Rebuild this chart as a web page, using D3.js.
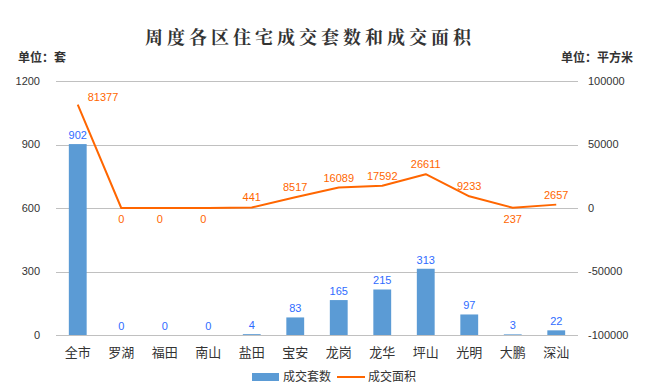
<!DOCTYPE html>
<html>
<head>
<meta charset="utf-8">
<script src="https://cdn.jsdelivr.net/npm/d3@7"></script>
<style>
  body { margin: 0; background: #fff; }
</style>
</head>
<body>
<div id="chart"></div>
<script>
// data
const districts = ["全市", "罗湖", "福田", "南山", "盐田", "宝安", "龙岗", "龙华", "坪山", "光明", "大鹏", "深汕"];
const units = [902, 0, 0, 0, 4, 83, 165, 215, 313, 97, 3, 22];
const areas = [81377, 0, 0, 0, 441, 8517, 16089, 17592, 26611, 9233, 237, 2657];
const leftTicks = [0, 300, 600, 900, 1200];
const rightTicks = [-100000, -50000, 0, 50000, 100000];

// where each line label sits relative to its point
const areaLabelPos = ["right", "below", "below", "below", "above", "above", "above", "above", "above", "above", "below", "above"];

const width = 649, height = 391;
const margin = { top: 81, right: 71, bottom: 56, left: 56 };
const numFont = "'Liberation Sans', Arial, sans-serif";
const cjkFont = "'Noto Sans CJK SC', sans-serif";

const svg = d3.select("#chart").append("svg")
    .attr("width", width)
    .attr("height", height);

const x = d3.scaleBand()
    .domain(districts)
    .range([margin.left, width - margin.right])
    .paddingInner(0.59)
    .paddingOuter(0.295);

const xc = d3.scaleBand().domain(districts).range([margin.left, width - margin.right]);

const yL = d3.scaleLinear().domain([0, 1200]).range([height - margin.bottom, margin.top]);
const yR = d3.scaleLinear().domain([-100000, 100000]).range([height - margin.bottom, margin.top]);

// gridlines
svg.append("g")
    .selectAll("line")
    .data(leftTicks)
    .join("line")
    .attr("x1", margin.left)
    .attr("x2", width - margin.right)
    .attr("y1", d => Math.round(yL(d)) + 0.5)
    .attr("y2", d => Math.round(yL(d)) + 0.5)
    .attr("stroke", "#c0c0c0")
    .attr("stroke-width", 1);

// left axis labels
svg.append("g")
    .selectAll("text")
    .data(leftTicks)
    .join("text")
    .attr("x", 40)
    .attr("y", d => yL(d))
    .attr("dy", "0.35em")
    .attr("text-anchor", "end")
    .attr("font-family", numFont)
    .attr("font-size", 11)
    .attr("fill", "#333")
    .text(d => d);

// right axis labels
svg.append("g")
    .selectAll("text")
    .data(rightTicks)
    .join("text")
    .attr("x", 588)
    .attr("y", d => yR(d))
    .attr("dy", "0.35em")
    .attr("text-anchor", "start")
    .attr("font-family", numFont)
    .attr("font-size", 11)
    .attr("fill", "#333")
    .text(d => d);

// category labels
svg.append("g")
    .selectAll("text")
    .data(districts)
    .join("text")
    .attr("x", d => xc(d) + xc.bandwidth() / 2)
    .attr("y", height - margin.bottom + 22)
    .attr("text-anchor", "middle")
    .attr("font-family", cjkFont)
    .attr("font-size", 13)
    .attr("fill", "#333")
    .text(d => d);

// bars
svg.append("g")
    .selectAll("rect")
    .data(units)
    .join("rect")
    .attr("x", (d, i) => x(districts[i]))
    .attr("y", d => yL(d))
    .attr("width", x.bandwidth())
    .attr("height", d => yL(0) - yL(d))
    .attr("fill", "#5b9bd5");

// bar labels
svg.append("g")
    .selectAll("text")
    .data(units)
    .join("text")
    .attr("x", (d, i) => xc(districts[i]) + xc.bandwidth() / 2)
    .attr("y", d => yL(d) - 5)
    .attr("text-anchor", "middle")
    .attr("font-family", numFont)
    .attr("font-size", 11)
    .attr("fill", "#2f6bff")
    .text(d => d);

// area line
const line = d3.line()
    .x((d, i) => xc(districts[i]) + xc.bandwidth() / 2)
    .y(d => yR(d));

svg.append("path")
    .datum(areas)
    .attr("d", line)
    .attr("fill", "none")
    .attr("stroke", "#ff6600")
    .attr("stroke-width", 2)
    .attr("stroke-linejoin", "round");

// line labels
svg.append("g")
    .selectAll("text")
    .data(areas)
    .join("text")
    .attr("x", (d, i) => {
        const cx = xc(districts[i]) + xc.bandwidth() / 2;
        if (areaLabelPos[i] === "right") return cx + 10;
        if (areaLabelPos[i] === "below" && i > 1 && i < 4) return cx - 5;
        return cx;
    })
    .attr("y", (d, i) => {
        const p = areaLabelPos[i];
        if (p === "below") return yR(d) + 15;
        if (p === "right") return yR(d) - 4;
        return yR(d) - 6;
    })
    .attr("text-anchor", (d, i) => areaLabelPos[i] === "right" ? "start" : "middle")
    .attr("font-family", numFont)
    .attr("font-size", 11)
    .attr("fill", "#ff6600")
    .text(d => d);

// title
svg.append("text")
    .attr("x", 310)
    .attr("y", 44)
    .attr("text-anchor", "middle")
    .attr("font-family", "'Noto Serif CJK SC', 'Noto Sans CJK SC', serif")
    .attr("font-size", 18)
    .attr("font-weight", "bold")
    .attr("letter-spacing", 4)
    .attr("fill", "#333")
    .text("周度各区住宅成交套数和成交面积");

// unit labels
svg.append("text")
    .attr("x", 18)
    .attr("y", 62)
    .attr("font-family", cjkFont)
    .attr("font-size", 12)
    .attr("font-weight", "bold")
    .attr("fill", "#333")
    .text("单位：套");

svg.append("text")
    .attr("x", 633)
    .attr("y", 62)
    .attr("text-anchor", "end")
    .attr("font-family", cjkFont)
    .attr("font-size", 12)
    .attr("font-weight", "bold")
    .attr("fill", "#333")
    .text("单位：平方米");

// legend
const legend = svg.append("g").attr("transform", "translate(252, 377)");
legend.append("rect")
    .attr("x", 0)
    .attr("y", -4)
    .attr("width", 27)
    .attr("height", 8)
    .attr("fill", "#5b9bd5");
legend.append("text")
    .attr("x", 31)
    .attr("y", 0)
    .attr("dy", "0.35em")
    .attr("font-family", cjkFont)
    .attr("font-size", 12)
    .attr("fill", "#333")
    .text("成交套数");
legend.append("line")
    .attr("x1", 85)
    .attr("x2", 113)
    .attr("y1", 0)
    .attr("y2", 0)
    .attr("stroke", "#ff6600")
    .attr("stroke-width", 2);
legend.append("text")
    .attr("x", 116)
    .attr("y", 0)
    .attr("dy", "0.35em")
    .attr("font-family", cjkFont)
    .attr("font-size", 12)
    .attr("fill", "#333")
    .text("成交面积");
</script>
</body>
</html>
